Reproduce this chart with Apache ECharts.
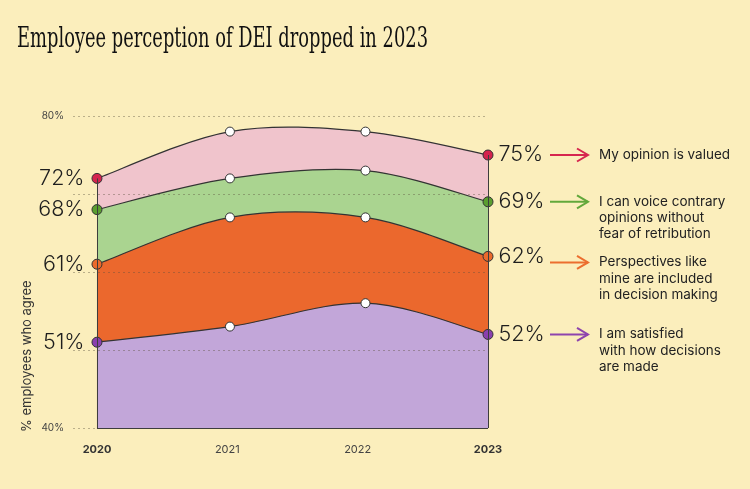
<!DOCTYPE html>
<html>
<head>
<meta charset="utf-8">
<script src="https://cdn.jsdelivr.net/npm/echarts@6/dist/echarts.min.js"></script>
<style>
html,body{margin:0;padding:0;background:#fbeebc;}
#c{width:750px;height:489px;}
</style>
</head>
<body>
<div id="c"></div>
<script>
// ---- data ----
const pointYears = [2020, 2021.02, 2022.06, 2023];
const axisYears = [2020, 2021, 2022, 2023];
const boldYears = [2020, 2023];
const yTickLabels = [40, 80];
const opinionValued = [72, 78, 78, 75];
const voiceContrary = [68, 72, 73, 69];
const perspectivesIncluded = [61, 67, 67, 62];
const satisfiedDecisions = [51, 53, 56, 52];
const seriesNames = ['My opinion is valued', 'I can voice contrary opinions without fear of retribution', 'Perspectives like mine are included in decision making', 'I am satisfied with how decisions are made'];
const legendLines = [
  ['My opinion is valued'],
  ['I can voice contrary', 'opinions without', 'fear of retribution'],
  ['Perspectives like', 'mine are included', 'in decision making'],
  ['I am satisfied', 'with how decisions', 'are made']
];
const titleText = 'Employee perception of DEI dropped in 2023';
const yAxisTitle = '% employees who agree';

// ---- styles ----
const Y_MIN = 40, Y_MAX = 80;
const allValues = [opinionValued, voiceContrary, perspectivesIncluded, satisfiedDecisions];
const fills = ['#f0c4cc', '#aad490', '#eb682d', '#c2a6d9'];
const markerColors = ['#d4244e', '#5a9e2f', '#eb6a2c', '#8a3fae'];
const arrowColors = ['#d6264f', '#62a83b', '#ec6e2f', '#8e44ad'];

const chart = echarts.init(document.getElementById('c'), null, {renderer: 'canvas'});

// cardinal (Catmull-Rom) band renderer, through the axis scales
function bandRenderer(fill) {
  return function (params, api) {
    if (params.dataIndexInside !== 0) return null;
    const n = params.dataInsideLength;
    const pts = [];
    for (let j = 0; j < n; j++) pts.push(api.coord([api.value(0, j), api.value(1, j)]));
    const base = api.coord([api.value(0, 0), Y_MIN])[1];
    let d = 'M' + pts[0][0] + ',' + pts[0][1];
    for (let j = 0; j < n - 1; j++) {
      const p0 = pts[Math.max(j - 1, 0)], p1 = pts[j], p2 = pts[j + 1], p3 = pts[Math.min(j + 2, n - 1)];
      const c1 = [p1[0] + (p2[0] - p0[0]) / 6, p1[1] + (p2[1] - p0[1]) / 6];
      const c2 = [p2[0] - (p3[0] - p1[0]) / 6, p2[1] - (p3[1] - p1[1]) / 6];
      d += ' C' + c1[0] + ',' + c1[1] + ' ' + c2[0] + ',' + c2[1] + ' ' + p2[0] + ',' + p2[1];
    }
    const areaD = d + ' L' + pts[n - 1][0] + ',' + base + ' L' + pts[0][0] + ',' + base + ' Z';
    return {
      type: 'group',
      children: [
        {type: 'path', shape: {pathData: areaD}, style: {fill: fill, stroke: 'none'}},
        {type: 'path', shape: {pathData: d}, style: {fill: 'none', stroke: '#333', lineWidth: 1.2}}
      ]
    };
  };
}

const series = [];
allValues.forEach((vals, i) => {
  series.push({
    type: 'custom',
    name: seriesNames[i],
    data: pointYears.map((x, j) => [x, vals[j]]),
    encode: {x: 0, y: 1},
    renderItem: bandRenderer(fills[i]),
    clip: false,
    silent: true,
    z: 2
  });
});
// frame edges of the stacked areas
series.push({
  type: 'line',
  name: 'frame',
  data: pointYears.map((x, j) => [x, opinionValued[j]]),
  showSymbol: false,
  symbol: 'none',
  silent: true,
  z: 3,
  lineStyle: {opacity: 0},
  markLine: {
    silent: true,
    symbol: ['none', 'none'],
    label: {show: false},
    lineStyle: {color: '#3d3d3d', width: 1, type: 'solid'},
    data: [
      [{coord: [pointYears[0], Y_MIN]}, {coord: [pointYears[0], opinionValued[0]]}],
      [{coord: [pointYears[3], Y_MIN]}, {coord: [pointYears[3], opinionValued[3]]}],
      [{coord: [pointYears[0], Y_MIN]}, {coord: [pointYears[3], Y_MIN]}]
    ]
  }
});
allValues.forEach((vals, i) => {
  series.push({
    type: 'scatter',
    name: seriesNames[i] + ' points',
    z: 4,
    clip: false,
    silent: true,
    itemStyle: {opacity: 1},
    data: pointYears.map((x, j) => {
      const end = (j === 0 || j === pointYears.length - 1);
      return {
        value: [x, vals[j]],
        symbolSize: end ? 10 : 9,
        itemStyle: {color: end ? markerColors[i] : '#ffffff', borderColor: '#333', borderWidth: 1, opacity: 1},
        label: end ? {show: true, position: j === 0 ? 'left' : 'right', distance: j === 0 ? 7 : 5} : {show: false}
      };
    }),
    label: {
      fontSize: 21.5, fontWeight: 300, color: '#1e1e1e', fontFamily: 'Inter', opacity: 1,
      formatter: p => p.value[1] + '%'
    }
  });
});

chart.setOption({
  animation: false,
  backgroundColor: '#fbeebc',
  grid: {left: 73, right: 262, top: 116, bottom: 61},
  xAxis: {
    type: 'value', min: 2019.816, max: 2023,
    axisLine: {show: false}, axisTick: {show: false}, splitLine: {show: false},
    axisLabel: {
      customValues: axisYears,
      margin: 16,
      formatter: v => boldYears.includes(v) ? '{b|' + v + '}' : '{n|' + v + '}',
      rich: {
        b: {fontSize: 11, fontWeight: 700, color: '#333', fontFamily: 'Inter'},
        n: {fontSize: 11, fontWeight: 400, color: '#444', fontFamily: 'Inter'}
      }
    }
  },
  yAxis: {
    type: 'value', min: Y_MIN, max: Y_MAX, interval: 10, z: 3,
    axisLine: {show: false}, axisTick: {show: false},
    splitLine: {lineStyle: {type: [2, 3], color: 'rgba(90,80,60,0.4)', width: 1}},
    axisLabel: {
      margin: 9, fontSize: 10, color: '#444', fontFamily: 'Inter',
      formatter: v => yTickLabels.includes(v) ? v + '%' : ''
    }
  },
  series: series
});

// annotations
const titleFont = '27px "DejaVu Serif"';
const ctx = document.createElement('canvas').getContext('2d');
ctx.font = titleFont;
const titleW = ctx.measureText(titleText).width || 600;
const graphics = [];
graphics.push({
  type: 'text', x: 17, y: 40, scaleX: 411 / titleW,
  style: {text: titleText, font: titleFont, fill: '#111', verticalAlign: 'middle', align: 'left'}
});
graphics.push({
  type: 'text', x: 27, y: 432, rotation: Math.PI / 2,
  style: {text: yAxisTitle, font: '13px Inter', fill: '#333', verticalAlign: 'middle', align: 'left'}
});
let prevBottom = -Infinity;
const lineH = 16.3;
allValues.forEach((vals, i) => {
  const p = chart.convertToPixel({gridIndex: 0}, [pointYears[3], vals[3]]);
  const y = Math.max(p[1], prevBottom + 28);
  graphics.push({
    type: 'line', shape: {x1: 550, y1: y, x2: 588, y2: y},
    style: {stroke: arrowColors[i], lineWidth: 2}
  });
  graphics.push({
    type: 'polyline', shape: {points: [[577, y - 6.5], [588, y], [577, y + 6.5]]},
    style: {stroke: arrowColors[i], lineWidth: 2, fill: null}
  });
  graphics.push({
    type: 'text', x: 599, y: y - lineH / 2,
    style: {text: legendLines[i].join('\n'), font: '13.5px Inter', fill: '#222', lineHeight: lineH, verticalAlign: 'top', align: 'left'}
  });
  prevBottom = y + (legendLines[i].length - 1) * lineH;
});
chart.setOption({graphic: graphics});
</script>
</body>
</html>
